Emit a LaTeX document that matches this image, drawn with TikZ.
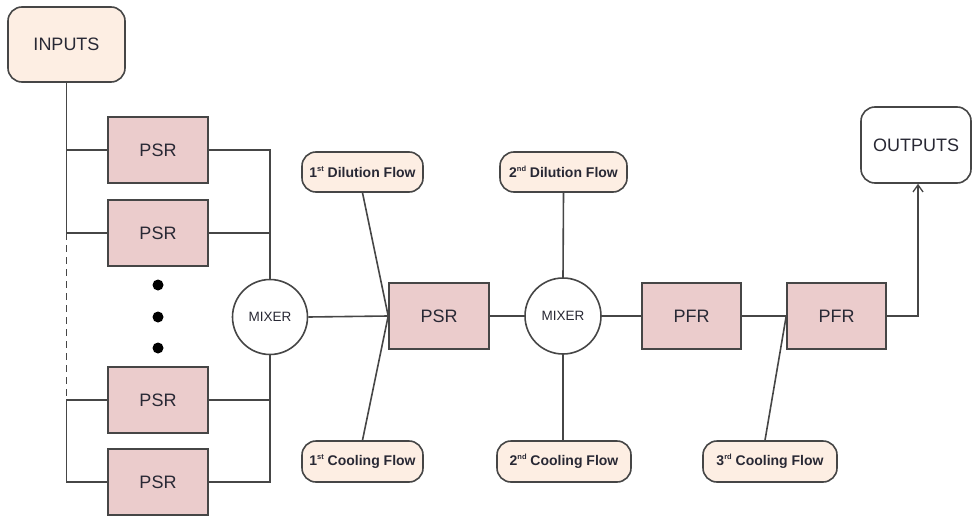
\documentclass[tikz,border=0pt]{standalone}
\usepackage{fontspec}
\setmainfont{Liberation Sans}
\usetikzlibrary{arrows.meta}
\definecolor{psrfill}{RGB}{235,204,204}
\definecolor{flowfill}{RGB}{253,238,227}
\definecolor{edge}{RGB}{70,70,70}
\definecolor{txt}{RGB}{40,40,52}
\newcommand{\sups}[1]{\raisebox{0.45em}{\fontsize{7.5}{8}\selectfont #1}}
\begin{document}
\begin{tikzpicture}[x=1pt,y=-1pt,
  every node/.style={text=txt},
  conn/.style={draw=edge,line width=1.6pt},
  reactor/.style={draw=edge,line width=1.6pt,fill=psrfill,minimum width=100pt,minimum height=66pt,inner sep=0pt,font=\fontsize{18}{20}\selectfont},
  terminal/.style={draw=edge,line width=1.6pt,rounded corners=14pt,minimum width=117pt,minimum height=75pt,inner sep=0pt,font=\fontsize{18}{20}\selectfont},
  mixer/.style={draw=edge,line width=1.6pt,fill=white,circle,minimum size=75pt,inner sep=0pt,font=\fontsize{13.5}{15}\selectfont},
  flow/.style={draw=edge,line width=1.6pt,fill=flowfill,rounded corners=14pt,minimum height=40pt,inner sep=0pt,font=\bfseries\fontsize{14}{16}\selectfont}
]
\useasboundingbox (0,0) rectangle (973,516);

\node[terminal,fill=flowfill] (inputs) at (66.5,44.5) {INPUTS};
\node[terminal,fill=white,minimum width=110pt,minimum height=76pt] (outputs) at (916,145) {OUTPUTS};

\node[reactor] (psr1) at (158,150) {PSR};
\node[reactor] (psr2) at (158,233) {PSR};
\node[reactor] (psr3) at (158,400) {PSR};
\node[reactor] (psr4) at (158,482) {PSR};

\node[mixer] (mix1) at (270,317) {MIXER};
\node[reactor] (psr5) at (439,316) {PSR};
\node[mixer,minimum size=76pt] (mix2) at (563,316) {MIXER};
\node[reactor,minimum width=99pt] (pfr1) at (691.5,316) {PFR};
\node[reactor,minimum width=99pt] (pfr2) at (836.5,316) {PFR};

\node[flow,minimum width=121pt] (dil1) at (362.5,172) {1\sups{st} Dilution Flow};
\node[flow,minimum width=121pt,minimum height=41pt] (cool1) at (362.5,461.5) {1\sups{st} Cooling Flow};
\node[flow,minimum width=127pt] (dil2) at (563.5,172) {2\sups{nd} Dilution Flow};
\node[flow,minimum width=134pt,minimum height=41pt] (cool2) at (564,461.5) {2\sups{nd} Cooling Flow};
\node[flow,minimum width=134pt,minimum height=41pt] (cool3) at (770,461.5) {3\sups{rd} Cooling Flow};

% dots
\fill[black] (158,285) circle (5.5pt);
\fill[black] (158,317) circle (5.5pt);
\fill[black] (158,348) circle (5.5pt);

% left input bus
\draw[conn] (inputs.south) -- (inputs.south |- psr2.west) -- (psr2.west);
\draw[conn] (inputs.south |- psr1.west) -- (psr1.west);
\draw[conn,dash pattern=on 7pt off 5pt] (inputs.south |- psr2.west) -- ([yshift=-6pt]inputs.south |- psr3.west);
\draw[conn] (psr3.west) -- (inputs.south |- psr3.west) -- (inputs.south |- psr4.west) -- (psr4.west);

% right bus to mixer
\draw[conn] (psr1.east) -| (mix1.north);
\draw[conn] (psr2.east) -- (mix1.north |- psr2.east);
\draw[conn] (psr4.east) -| (mix1.south);
\draw[conn] (psr3.east) -- (mix1.south |- psr3.east);

% main line
\draw[conn] (mix1.east) -- (psr5.west);
\draw[conn] (dil1.south) -- (psr5.west);
\draw[conn] (cool1.north) -- (psr5.west);
\draw[conn] (psr5.east) -- (mix2.west);
\draw[conn] (dil2.south) -- (mix2.north);
\draw[conn] (cool2.north -| mix2.south) -- (mix2.south);
\draw[conn] (mix2.east) -- (pfr1.west);
\draw[conn] (pfr1.east) -- (pfr2.west);
\draw[conn] ([xshift=-5pt]cool3.north) -- (pfr2.west);
\draw[conn,-{Straight Barb[length=7pt,width=10pt,line width=1.3pt]}] (pfr2.east) -| ([xshift=2pt]outputs.south);
\end{tikzpicture}
\end{document}
